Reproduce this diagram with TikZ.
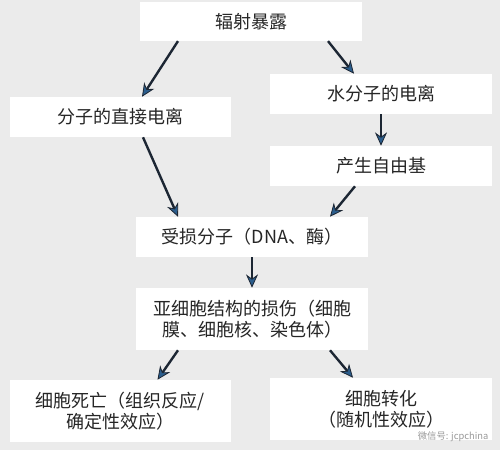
\documentclass[tikz,border=0pt]{standalone}
\usepackage{fontspec}
\setmainfont{Noto Sans CJK SC}
\usetikzlibrary{arrows.meta,calc}
\definecolor{bggray}{HTML}{EBEBEB}
\definecolor{linedark}{HTML}{1C2633}
\definecolor{arrowblue}{HTML}{2B5D8C}

\begin{document}
\begin{tikzpicture}[x=0.75pt,y=-0.75pt,
    box/.style={rectangle,fill=white,inner sep=0pt,align=center,
      font=\fontsize{13.5}{16}\selectfont,text=black!85},
    link/.style={draw=linedark,line width=1.8pt,
      -{Stealth[length=10pt,width=9pt,fill=arrowblue,line width=0.6pt]}}]
  \fill[bggray] (0,0) rectangle (500,450);
  \useasboundingbox (0,0) rectangle (500,450);

  \node (expo) [box,minimum width=166pt,minimum height=29pt] at (251,21.5) {辐射暴露};
  \node (direct) [box,minimum width=166pt,minimum height=30pt] at (120.5,117) {分子的直接电离};
  \node (water) [box,minimum width=166pt,minimum height=30pt] at (381,94) {水分子的电离};
  \node (radical) [box,minimum width=166pt,minimum height=30pt] at (381,166) {产生自由基};
  \node (damaged) [box,minimum width=174pt,minimum height=30pt] at (252,237) {受损分子（DNA、酶）};
  \node (subcell) [box,minimum width=174pt,minimum height=46.5pt] at (252,319)
        {亚细胞结构的损伤（细胞\\膜、细胞核、染色体）};
  \node (death) [box,minimum width=166pt,minimum height=46.5pt] at (120.5,411)
        {细胞死亡（组织反应/\\确定性效应）};
  \node (transf) [box,minimum width=166pt,minimum height=46.5pt] at (381,409)
        {细胞转化\\（随机性效应）};

  \draw[link] ($(expo.south)+(-73,0)$) -- ($(direct.north)+(21.5,0)$);
  \draw[link] ($(expo.south)+(77,0)$) -- ($(water.north)+(-27,0)$);
  \draw[link] (water) -- (radical);
  \draw[link] ($(direct.south)+(22.5,0)$) -- ($(damaged.north)+(-74,0)$);
  \draw[link] ($(radical.south)+(-26,0)$) -- ($(damaged.north)+(78,0)$);
  \draw[link] (damaged) -- (subcell);
  \draw[link] ($(subcell.south)+(-74,0)$) -- ($(death.north)+(37,0)$);
  \draw[link] ($(subcell.south)+(78,0)$) -- ($(transf.north)+(-28,0)$);

  % watermark
  \node (mark) [text=black!40,font=\fontsize{7}{8}\selectfont,anchor=east] at (493,437) {微信号: jcpchina};
\end{tikzpicture}
\end{document}
